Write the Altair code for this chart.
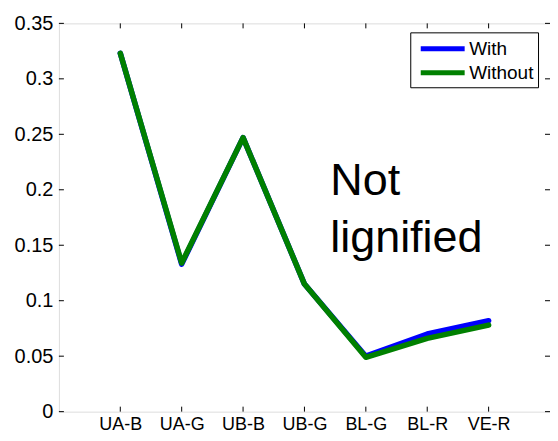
import altair as alt
import pandas as pd

categories = ["UA-B", "UA-G", "UB-B", "UB-G", "BL-G", "BL-R", "VE-R"]
positions = [1, 2, 3, 4, 5, 6, 7]
with_vals = [0.323, 0.133, 0.247, 0.115, 0.050, 0.070, 0.082]
without_vals = [0.323, 0.134, 0.247, 0.115, 0.049, 0.066, 0.078]
y_ticks = [0, 0.05, 0.1, 0.15, 0.2, 0.25, 0.3, 0.35]
series_names = ["With", "Without"]
series_colors = ["#0000FF", "#008000"]
annotation = ["Not", "lignified"]
annotation_pos = [4.42, 0.1952]

rows = []
for s, vals in zip(series_names, [with_vals, without_vals]):
    for c, p, v in zip(categories, positions, vals):
        rows.append({"series": s, "cat": c, "pos": p, "value": v})
df = pd.DataFrame(rows)

label_expr = "{" + ",".join(f"'{p}':'{c}'" for p, c in zip(positions, categories)) + "}[datum.value]"

W, H = 492, 389
xscale = alt.Scale(domain=[0, 8], nice=False, zero=False)
yscale = alt.Scale(domain=[0, 0.35], nice=False)

base_font = "Liberation Sans"

yaxis = alt.Axis(values=y_ticks, ticks=False, grid=False, domain=False,
                 labelFontSize=20, labelColor="black", labelFont=base_font,
                 labelPadding=6, title=None, labelExpr="format(datum.value, '')")

lines = alt.Chart(df).mark_line(strokeWidth=5.5, strokeCap="round", strokeJoin="round").encode(
    x=alt.X("pos:Q", scale=xscale,
            axis=alt.Axis(values=positions, labelExpr=label_expr, ticks=False, grid=False,
                          domain=False, labelFontSize=18, labelColor="black",
                          labelFont=base_font, labelPadding=4, title=None)),
    y=alt.Y("value:Q", scale=yscale, axis=yaxis),
    color=alt.Color("series:N", scale=alt.Scale(domain=series_names, range=series_colors),
                    title=None,
                    legend=alt.Legend(orient="none", legendX=352, legendY=9,
                                      symbolType="M-2.2,0L2.2,0", symbolStrokeWidth=5,
                                      symbolSize=400, symbolOffset=16,
                                      labelFontSize=19, labelFont=base_font, labelColor="black",
                                      strokeColor="black", fillColor="white", padding=4,
                                      rowPadding=1, labelOffset=14)),
    detail="series:N",
)

# inward tick marks
xt = pd.DataFrame({"pos": positions})
yt = pd.DataFrame({"v": y_ticks})
bottom_ticks = alt.Chart(xt).mark_rule(color="black", strokeWidth=1).encode(
    x=alt.X("pos:Q", scale=xscale), y=alt.value(H), y2=alt.value(H - 5))
top_ticks = alt.Chart(xt).mark_rule(color="black", strokeWidth=1).encode(
    x=alt.X("pos:Q", scale=xscale), y=alt.value(0), y2=alt.value(5))
left_ticks = alt.Chart(yt).mark_rule(color="black", strokeWidth=1).encode(
    y=alt.Y("v:Q", scale=yscale, axis=yaxis), x=alt.value(0), x2=alt.value(5))
right_ticks = alt.Chart(yt).mark_rule(color="black", strokeWidth=1).encode(
    y=alt.Y("v:Q", scale=yscale, axis=yaxis), x=alt.value(W), x2=alt.value(W - 5))

text_df = pd.DataFrame({"x": [annotation_pos[0]], "y": [annotation_pos[1]], "t": [annotation]})
note = alt.Chart(text_df).mark_text(align="left", baseline="alphabetic", fontSize=45,
                                     font=base_font, color="black", lineHeight=57).encode(
    x=alt.X("x:Q", scale=xscale), y=alt.Y("y:Q", scale=yscale), text="t")

chart = alt.layer(bottom_ticks, top_ticks, left_ticks, right_ticks, lines, note).properties(
    width=W, height=H,
    autosize=alt.AutoSizeParams(type="none"),
    padding={"left": 51, "top": 15, "right": 0, "bottom": 30},
).configure_view(stroke="black", strokeWidth=1).configure(background="white")

chart.save("out.html", embed_options={"renderer": "svg", "actions": False})
